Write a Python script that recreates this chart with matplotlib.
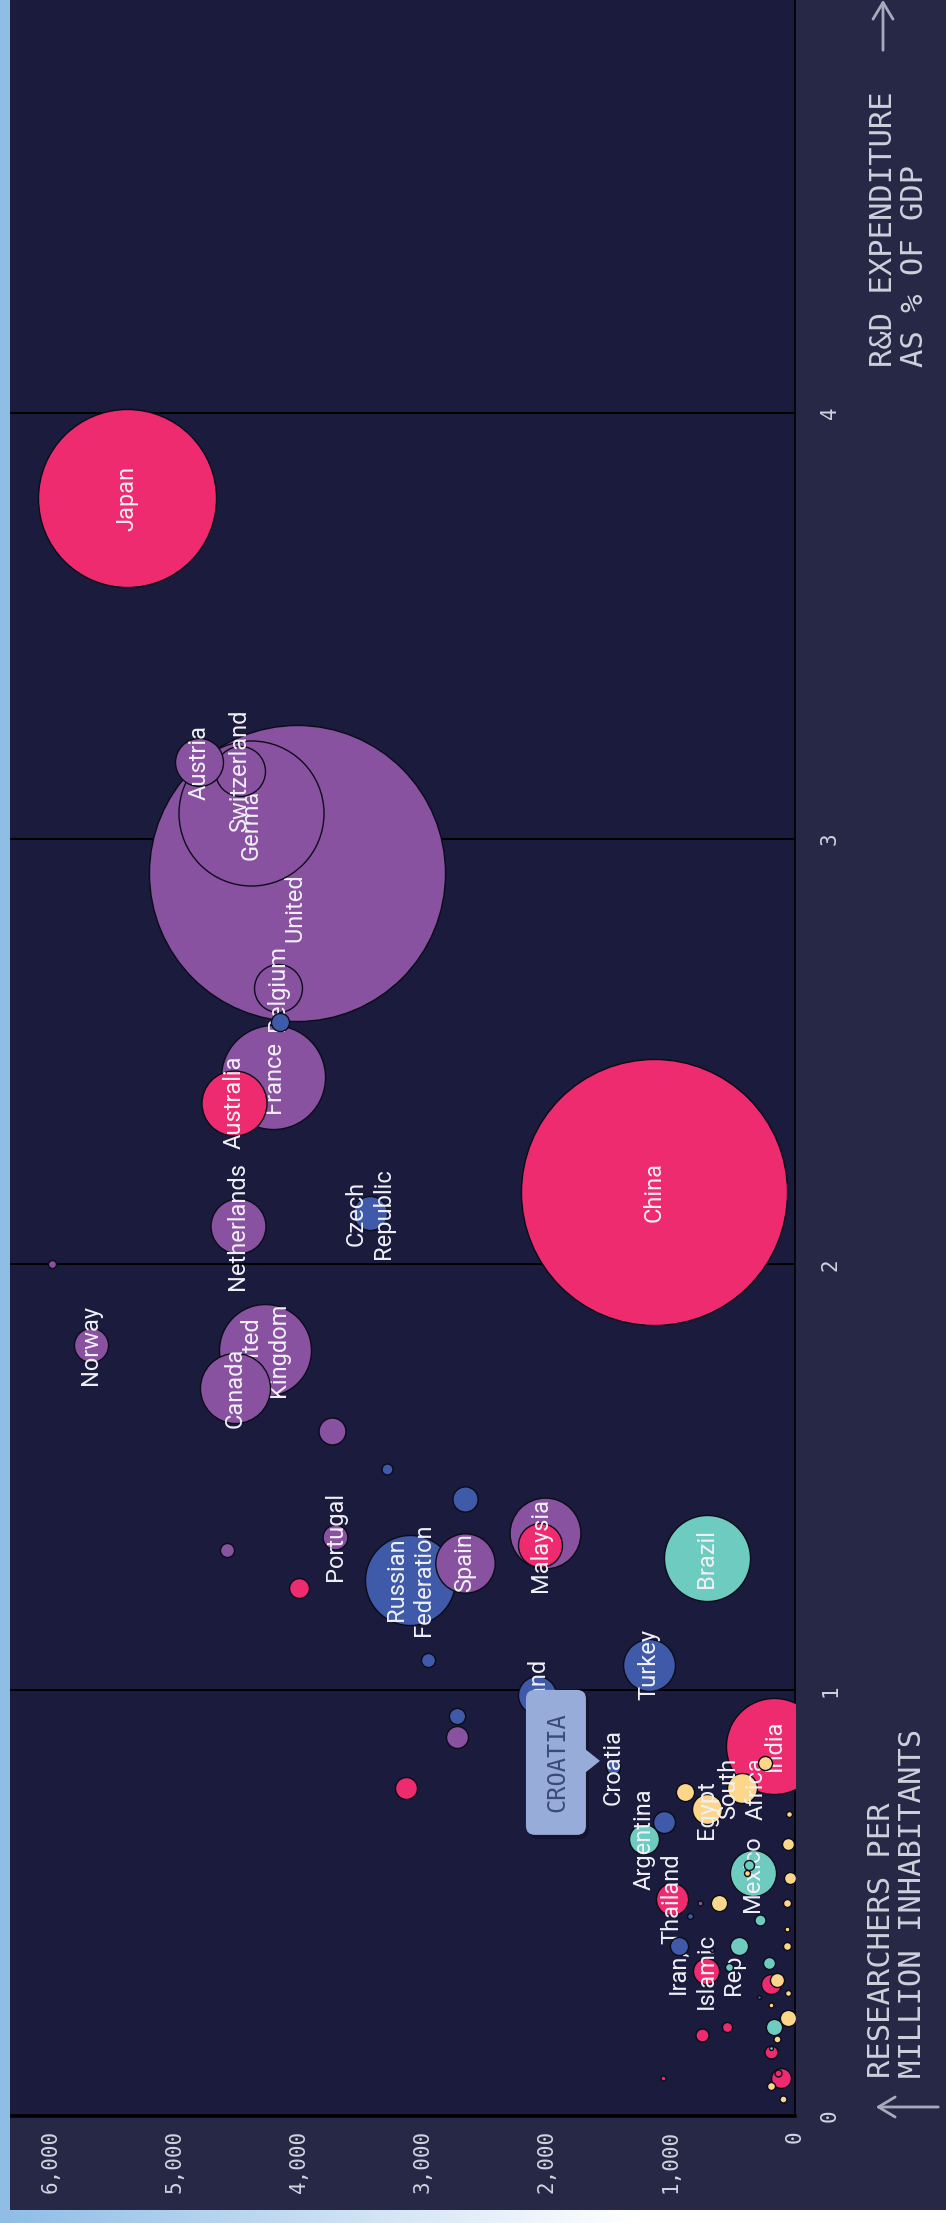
import numpy as np
import matplotlib
matplotlib.use("Agg")
import matplotlib.pyplot as plt
from matplotlib import font_manager
from matplotlib.patches import FancyBboxPatch, Polygon, FancyArrowPatch, Rectangle
from matplotlib.transforms import IdentityTransform

W, H = 946, 2223

# researchers per million inhabitants / R&D expenditure (% of GDP) / GERD (bn PPP$)
asia_labels = ["Japan", "China", "India", "Australia", "Malaysia", "Thailand",
               "Iran,\nIslamic\nRep.", "", "", "", "", "", "", "", "", ""]
asia_researchers = [5387, 1137, 169, 4524, 2056, 992, 718, 4000, 3137, 194, 113, 137, 548, 750, 194, 1064]
asia_rd = [3.80, 2.17, 0.87, 2.38, 1.34, 0.51, 0.34, 1.24, 0.77, 0.31, 0.09, 0.10, 0.21, 0.19, 0.15, 0.09]
asia_gerd = [144.6, 323, 42.1, 19.3, 8.8, 4.7, 3.1, 1.8, 2.2, 1.8, 1.8, 0.22, 0.46, 0.77, 0.77, 0.11]

west_labels = ["United States", "Germany", "Austria", "Switzerland", "Belgium", "France",
               "Netherlands", "United\nKingdom", "Canada", "Norway", "", "", "Portugal", "",
               "", "Spain", "", ""]
west_researchers = [4016, 4387, 4806, 4476, 4169, 4209, 4492, 4274, 4516, 5677, 5991, 3734, 3709,
                    4580, 2016, 2661, 2726, 766]
west_rd = [2.92, 3.06, 3.18, 3.16, 2.65, 2.44, 2.09, 1.80, 1.71, 1.81, 2.00, 1.61, 1.36,
           1.33, 1.37, 1.30, 0.89, 0.50]
west_gerd = [400, 96, 10.5, 11.4, 10.5, 49.4, 13.8, 38.6, 22.4, 5.3, 0.29, 3.3, 2.8,
             0.9, 22.9, 16.1, 2.2, 0.11]

east_labels = ["Russian\nFederation", "Czech\nRepublic", "", "", "", "", "Poland", "",
               "Croatia", "Turkey", "", "", "", "", ""]
east_researchers = [3105, 3427, 4153, 3290, 2661, 2960, 2080, 2726, 1468, 1177, 1056, 935, 847, 669, 290]
east_rd = [1.26, 2.12, 2.57, 1.52, 1.45, 1.07, 0.99, 0.94, 0.82, 1.06, 0.69, 0.40, 0.47, 0.39, 0.28]
east_gerd = [37, 5.3, 1.5, 0.55, 2.9, 0.9, 6.6, 1.2, 0.9, 12.3, 2.2, 1.5, 0.16, 0.07, 0.07]

latam_labels = ["Brazil", "Argentina", "Mexico", "", "", "", "", "", "", ""]
latam_researchers = [710, 1218, 339, 371, 282, 452, 532, 210, 169, 194]
latam_rd = [1.31, 0.65, 0.57, 0.59, 0.46, 0.40, 0.35, 0.36, 0.21, 0.16]
latam_gerd = [33.8, 4.1, 9.7, 0.46, 0.55, 1.5, 0.29, 0.66, 1.2, 0.07]

africa_labels = ["Egypt", "South\nAfrica", "", "", "", "", "", "", "", "", "", "", "", "",
                 "", "", "", "", ""]
africa_researchers = [710, 427, 887, 242, 48, 56, 387, 40, 613, 65, 65, 65, 145, 56, 194, 56,
                      145, 194, 97]
africa_rd = [0.72, 0.77, 0.76, 0.83, 0.71, 0.64, 0.57, 0.56, 0.50, 0.50, 0.44, 0.40, 0.32,
             0.29, 0.26, 0.23, 0.18, 0.07, 0.04]
africa_gerd = [4.1, 4.1, 1.5, 0.9, 0.16, 0.66, 0.16, 0.66, 1.2, 0.29, 0.11, 0.29, 0.9, 0.16,
               0.11, 1.2, 0.22, 0.29, 0.22]

res_ticks = [0, 1000, 2000, 3000, 4000, 5000, 6000]
rd_ticks = [0, 1, 2, 3, 4]

region_colors = {
    "asia": "#ef2b70",
    "west": "#8952a0",
    "east": "#3f5aa8",
    "latam": "#6ecbbf",
    "africa": "#fed68a",
}

groups = [
    ("asia", asia_labels, asia_researchers, asia_rd, asia_gerd),
    ("west", west_labels, west_researchers, west_rd, west_gerd),
    ("east", east_labels, east_researchers, east_rd, east_gerd),
    ("latam", latam_labels, latam_researchers, latam_rd, latam_gerd),
    ("africa", africa_labels, africa_researchers, africa_rd, africa_gerd),
]

labels, colors, researchers, rd_pct, gerd = [], [], [], [], []
for reg, lab, res, rd, g in groups:
    labels += lab
    colors += [region_colors[reg]] * len(lab)
    researchers += res
    rd_pct += rd
    gerd += g

avail = {f.name for f in font_manager.fontManager.ttflist}
label_font = "Roboto" if "Roboto" in avail else "DejaVu Sans"
mono_font = "DejaVu Sans Mono"

bg_outer = "#272846"
bg_plot = "#1a1b3d"
text_col = "#f0f0f6"
tick_col = "#d2d3df"

fig = plt.figure(figsize=(W / 100, H / 100), dpi=100, facecolor=bg_outer)
ax = fig.add_axes([10 / W, 107 / H, 785 / W, 2116 / H])
ax.set_facecolor(bg_plot)
ax.set_xlim(6330, 0)
ax.set_ylim(0, 4.97)
ax.set_axisbelow(True)

# bubbles, biggest first; each label right after its bubble
size_k = 113.6
order = np.argsort(-np.array(gerd), kind="stable")
for k, i in enumerate(order):
    ax.scatter(researchers[i], rd_pct[i], s=gerd[i] * size_k, color=colors[i],
               edgecolors="#0c0c18", linewidths=1.0, zorder=3 + 2 * k)
    if labels[i]:
        ax.text(researchers[i], rd_pct[i], labels[i], rotation=90, ha="center", va="center",
                multialignment="center", fontsize=17, color=text_col, family=label_font,
                linespacing=1.25, zorder=4 + 2 * k)

# grid / spines
ax.yaxis.grid(True, color="black", lw=1.4)
ax.xaxis.grid(False)
for side in ["left", "top"]:
    ax.spines[side].set_visible(False)
ax.spines["bottom"].set_color("black")
ax.spines["bottom"].set_linewidth(2.6)
ax.spines["right"].set_color("black")
ax.spines["right"].set_linewidth(1.2)

ax.set_xticks(res_ticks)
ax.set_xticklabels([f"{v:,}" for v in res_ticks], rotation=90, family=mono_font,
                   fontsize=15, color=tick_col)
ax.tick_params(axis="x", length=0, pad=10)
ax.yaxis.tick_right()
ax.set_yticks(rd_ticks)
ax.set_yticklabels([str(v) for v in rd_ticks], rotation=90, family=mono_font,
                   fontsize=15, color=tick_col, va="center")
ax.tick_params(axis="y", length=0, pad=18)

# axis titles
fig.text(897 / W, 1 - 2078 / H, "RESEARCHERS PER\nMILLION INHABITANTS", rotation=90,
         ha="center", va="bottom", multialignment="left", family=mono_font, fontsize=22,
         color="#cfd0dc", linespacing=1.1)
fig.text(899 / W, 1 - 367 / H, "R&D EXPENDITURE\nAS % OF GDP", rotation=90,
         ha="center", va="bottom", multialignment="left", family=mono_font, fontsize=22,
         color="#cfd0dc", linespacing=1.1)

arrow_style = "->,head_length=1.0,head_width=0.6"
fig.add_artist(FancyArrowPatch((883, H - 53), (883, H + 3), transform=IdentityTransform(),
                               arrowstyle=arrow_style, mutation_scale=12, color="#a8a9bb", lw=2))
fig.add_artist(FancyArrowPatch((941, H - 2107), (873, H - 2107), transform=IdentityTransform(),
                               arrowstyle=arrow_style, mutation_scale=12, color="#a8a9bb", lw=2))

# page edges
fig.add_artist(Rectangle((0, 0), 10 / W, 1, transform=fig.transFigure, color="#8fbde6", lw=0))
gax = fig.add_axes([0, 0, 1, 13 / H])
t = np.clip(np.linspace(0, W, W) / 630, 0, 1)[:, None]
c0 = np.array([0x8f, 0xbd, 0xe6]) / 255
grad = c0 * (1 - t) + np.ones(3) * t
gax.imshow(grad[None, :, :], aspect="auto", extent=(0, 1, 0, 1))
gax.axis("off")

# tooltip for Croatia
ci = labels.index("Croatia")
cx, cy = ax.transData.transform((researchers[ci], rd_pct[ci]))
tx, ty = cx - 13, cy + 6
box = FancyBboxPatch((tx - 74, ty - 74), 60, 145, boxstyle="round,pad=0,rounding_size=9",
                     transform=IdentityTransform(), fc="#97acd9", ec="none", zorder=20)
shadow = FancyBboxPatch((tx - 71, ty - 78), 60, 145, boxstyle="round,pad=0,rounding_size=9",
                        transform=IdentityTransform(), fc="black", ec="none", alpha=0.25, zorder=19)
pointer = Polygon([(tx - 15, ty + 12), (tx, ty), (tx - 15, ty - 12)], closed=True,
                  transform=IdentityTransform(), fc="#97acd9", ec="none", zorder=20)
fig.add_artist(shadow)
fig.add_artist(box)
fig.add_artist(pointer)
fig.text(tx - 43, ty - 1, "CROATIA", transform=IdentityTransform(), rotation=90,
         ha="center", va="center", family=mono_font, fontsize=17, color="#3b4a7c", zorder=21)

fig.savefig("out.png", dpi=100, facecolor=bg_outer)
